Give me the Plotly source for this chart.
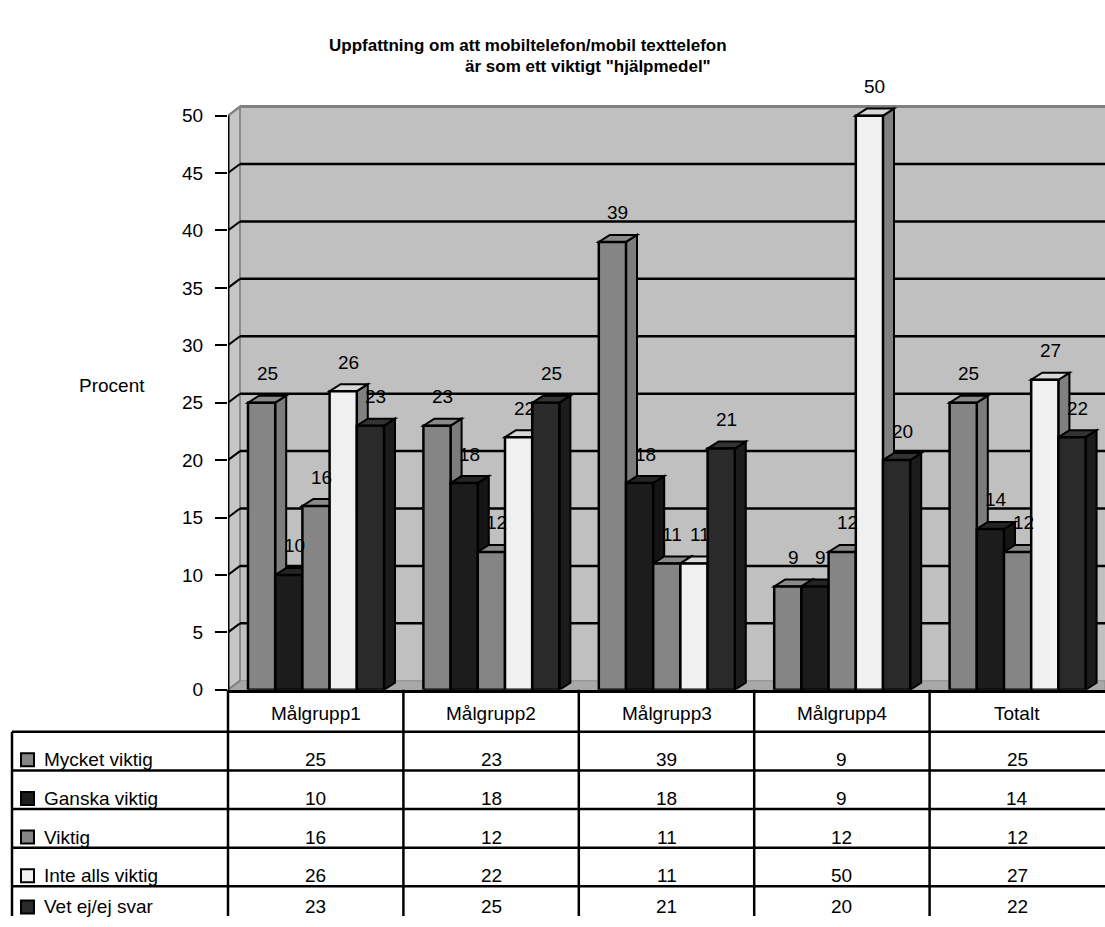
import plotly.graph_objects as go

# ---- data ----
categories = ["Målgrupp1", "Målgrupp2", "Målgrupp3", "Målgrupp4", "Totalt"]
series_names = ["Mycket viktig", "Ganska viktig", "Viktig", "Inte alls viktig", "Vet ej/ej svar"]
mycket_viktig = [25, 23, 39, 9, 25]
ganska_viktig = [10, 18, 18, 9, 14]
viktig = [16, 12, 11, 12, 12]
inte_alls_viktig = [26, 22, 11, 50, 27]
vet_ej = [23, 25, 21, 20, 22]
y_ticks = [0, 5, 10, 15, 20, 25, 30, 35, 40, 45, 50]
y_label = "Procent"
title_lines = ["Uppfattning om att mobiltelefon/mobil texttelefon",
               "är som ett viktigt \"hjälpmedel\""]

series_values = [mycket_viktig, ganska_viktig, viktig, inte_alls_viktig, vet_ej]

# ---- styling ----
FONT = "Liberation Sans, Arial, sans-serif"
TXT = 19
front_colors = ["#858585", "#1c1c1c", "#858585", "#f0f0f0", "#2a2a2a"]
side_colors = ["#7c7c7c", "#151515", "#7c7c7c", "#808080", "#1c1c1c"]
top_colors = ["#8a8a8a", "#242424", "#8a8a8a", "#d8d8d8", "#333333"]
key_colors = ["#858585", "#1c1c1c", "#858585", "#f0f0f0", "#2a2a2a"]

W, H = 1105, 927
H_EFF = 915              # drawn height of the page area used for layout fractions
X_LEFT_PX = 228          # left edge of the plotting box
Y0_PX = 689              # pixel row of value 0
PPU_Y = 11.47            # pixels per percent
PPU_X = (W - X_LEFT_PX) / 5.0

BAR_W = 27.2 / PPU_X
GROUP_START = -67.7 / PPU_X
DX_BAR, DY_BAR = 11 / PPU_X, 7 / PPU_Y
DX_WALL, DY_WALL = 12 / PPU_X, 9 / PPU_Y
Y_TOP = Y0_PX / PPU_Y
X_END = 4.5


def px(xp):
    return xp / W


def py(yp):
    return 1 - yp / H_EFF


def label(x, y, text, size=TXT, xanchor="center", xref="paper", yref="paper", bold=False):
    return dict(x=x, y=y, xref=xref, yref=yref, text=f"<b>{text}</b>" if bold else text,
                showarrow=False, xanchor=xanchor, yanchor="middle",
                font=dict(family=FONT, size=size, color="black"))


shapes = []
annotations = []

# back wall
shapes.append(dict(type="rect", xref="x", yref="y", layer="below",
                   x0=-0.5 + DX_WALL, x1=X_END, y0=DY_WALL, y1=50 + DY_WALL,
                   fillcolor="#c0c0c0", line=dict(width=0)))
shapes.append(dict(type="line", xref="x", yref="y", layer="below",
                   x0=-0.5 + DX_WALL, x1=X_END, y0=50 + DY_WALL, y1=50 + DY_WALL,
                   line=dict(color="#808080", width=3)))
# left side wall
shapes.append(dict(type="path", xref="x", yref="y", layer="below",
                   path=f"M{-0.5},{0} L{-0.5},{50} L{-0.5 + DX_WALL},{50 + DY_WALL} "
                        f"L{-0.5 + DX_WALL},{DY_WALL} Z",
                   fillcolor="#c6c6c6", line=dict(color="#8a8a8a", width=2)))
# floor
shapes.append(dict(type="path", xref="x", yref="y", layer="below",
                   path=f"M{-0.5},{0} L{X_END},{0} L{X_END},{DY_WALL} "
                        f"L{-0.5 + DX_WALL},{DY_WALL} Z",
                   fillcolor="#a8a8a8", line=dict(color="#8a8a8a", width=1)))

# gridlines on the back wall plus the short links from the axis ticks
for v in y_ticks:
    edge = v in (y_ticks[0], y_ticks[-1])
    if not edge:
        shapes.append(dict(type="line", xref="x", yref="y", layer="below",
                           x0=-0.5 + DX_WALL, x1=X_END,
                           y0=v + DY_WALL, y1=v + DY_WALL,
                           line=dict(color="black", width=2.5)))
    shapes.append(dict(type="line", xref="x", yref="y", layer="below",
                       x0=-0.5, x1=-0.5 + DX_WALL, y0=v, y1=v + DY_WALL,
                       line=dict(color="#808080" if edge else "black", width=2)))

# value axis line
shapes.append(dict(type="line", xref="x", yref="y", layer="below",
                   x0=-0.5, x1=-0.5, y0=0, y1=50,
                   line=dict(color="black", width=3)))

# side and top faces of the columns (front faces are the bar traces)
for j in range(len(categories)):
    for i, vals in enumerate(series_values):
        v = vals[j]
        x0 = j + GROUP_START + i * BAR_W
        x1 = x0 + BAR_W
        shapes.append(dict(type="path", xref="x", yref="y", layer="below",
                           path=f"M{x1},{0} L{x1},{v} L{x1 + DX_BAR},{v + DY_BAR} "
                                f"L{x1 + DX_BAR},{DY_BAR} Z",
                           fillcolor=side_colors[i], line=dict(color="black", width=2)))
        shapes.append(dict(type="path", xref="x", yref="y", layer="below",
                           path=f"M{x0},{v} L{x1},{v} L{x1 + DX_BAR},{v + DY_BAR} "
                                f"L{x0 + DX_BAR},{v + DY_BAR} Z",
                           fillcolor=top_colors[i], line=dict(color="black", width=2)))
        annotations.append(label(x0 + BAR_W / 2 + DX_BAR / 2, v + 29 / PPU_Y, str(v),
                                 xref="x", yref="y"))

fig = go.Figure()
for i, (name, vals) in enumerate(zip(series_names, series_values)):
    fig.add_trace(go.Bar(
        x=list(range(len(categories))), y=vals, name=name,
        width=BAR_W, offset=GROUP_START + i * BAR_W,
        marker=dict(color=front_colors[i], line=dict(color="black", width=2.5)),
        showlegend=False, hoverinfo="skip"))

# ---- data table under the chart ----
COL_PX = [X_LEFT_PX + k * PPU_X for k in range(6)]
HEADER_BOTTOM = 731
ROW_H = 38.6
TABLE_LEFT = 12
row_lines = [HEADER_BOTTOM + k * ROW_H for k in range(5)]

for xp in COL_PX[:-1]:
    shapes.append(dict(type="line", xref="paper", yref="paper",
                       x0=px(xp), x1=px(xp), y0=py(Y0_PX), y1=0,
                       line=dict(color="black", width=2.5)))
shapes.append(dict(type="line", xref="paper", yref="paper",
                   x0=px(TABLE_LEFT), x1=px(TABLE_LEFT), y0=py(HEADER_BOTTOM), y1=0,
                   line=dict(color="black", width=2.5)))
for yp in row_lines:
    shapes.append(dict(type="line", xref="paper", yref="paper",
                       x0=px(TABLE_LEFT), x1=1, y0=py(yp), y1=py(yp),
                       line=dict(color="black", width=2.5)))

for j, cat in enumerate(categories):
    annotations.append(label(px((COL_PX[j] + COL_PX[j + 1]) / 2), py(713), cat))

for i, (name, vals) in enumerate(zip(series_names, series_values)):
    yc = min(HEADER_BOTTOM + 28 + i * ROW_H, H_EFF - 9)
    shapes.append(dict(type="rect", xref="paper", yref="paper",
                       x0=px(21), x1=px(34), y0=py(yc - 6.5), y1=py(yc + 6.5),
                       fillcolor=key_colors[i], line=dict(color="black", width=2)))
    annotations.append(label(px(42), py(yc), name, xanchor="left"))
    for j, v in enumerate(vals):
        annotations.append(label(px((COL_PX[j] + COL_PX[j + 1]) / 2), py(yc), str(v)))

# titles
annotations.append(label(px(528), py(45), title_lines[0], size=17, bold=True))
annotations.append(label(px(588), py(66), title_lines[1], size=17, bold=True))
annotations.append(label(px(112), py(385), y_label))

fig.update_layout(
    width=W, height=H,
    margin=dict(l=0, r=0, t=0, b=0),
    paper_bgcolor="white", plot_bgcolor="white",
    barmode="overlay",
    showlegend=False,
    shapes=shapes,
    annotations=annotations,
    xaxis=dict(range=[-0.5, X_END], domain=[px(X_LEFT_PX), 1],
               showticklabels=False, ticks="", showgrid=False, zeroline=False,
               showline=True, linecolor="black", linewidth=3, fixedrange=True),
    yaxis=dict(range=[0, Y_TOP], domain=[py(Y0_PX), 1],
               tickvals=y_ticks, ticktext=[str(t) for t in y_ticks],
               ticks="outside", ticklen=12, tickwidth=2, tickcolor="black",
               ticklabelstandoff=8,
               tickfont=dict(family=FONT, size=TXT, color="black"),
               showgrid=False, zeroline=False, showline=False, fixedrange=True),
)

fig.write_html("out.html")
